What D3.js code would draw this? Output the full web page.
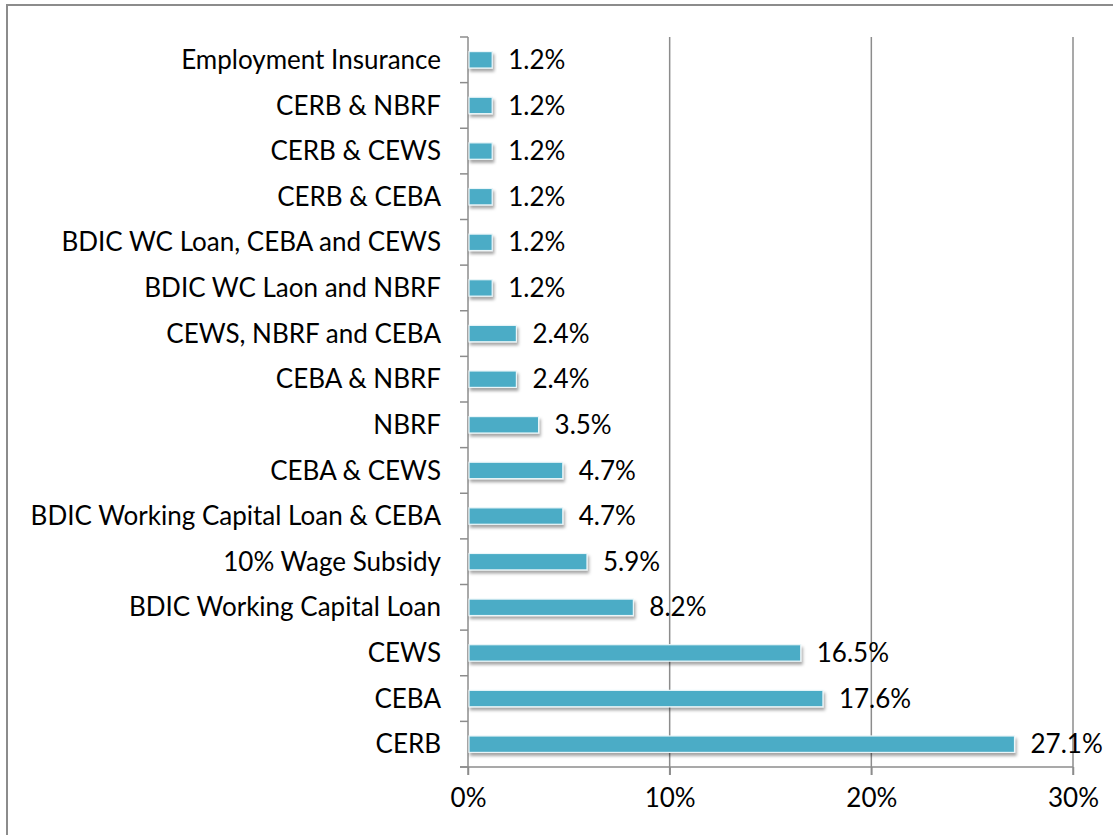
<!DOCTYPE html>
<html>
<head>
<meta charset="utf-8">
<script src="https://cdn.jsdelivr.net/npm/d3@7"></script>
<style>
  body { margin: 0; background: #fff; }
  text { font-family: Lato, "Noto Sans", sans-serif; fill: #000; }
</style>
</head>
<body>
<script>
// categories from top to bottom, same order as the picture
var categories = [
  "Employment Insurance", "CERB & NBRF", "CERB & CEWS", "CERB & CEBA",
  "BDIC WC Loan, CEBA and CEWS", "BDIC WC Laon and NBRF", "CEWS, NBRF and CEBA",
  "CEBA & NBRF", "NBRF", "CEBA & CEWS", "BDIC Working Capital Loan & CEBA",
  "10% Wage Subsidy", "BDIC Working Capital Loan", "CEWS", "CEBA", "CERB"
];
var shares = [1.2, 1.2, 1.2, 1.2, 1.2, 1.2, 2.4, 2.4, 3.5, 4.7, 4.7, 5.9, 8.2, 16.5, 17.6, 27.1];
var xTicks = [0, 10, 20, 30];

var W = 1113, H = 835;
var LEFT = 468, RIGHT = 1073, TOP = 37, BOTTOM = 767;
var FONT = 26;
var GRID = "#8c8c8c";

var svg = d3.select("body").append("svg")
  .attr("width", W).attr("height", H);

// drop shadow for the bars
var defs = svg.append("defs");
var f = defs.append("filter").attr("id", "shadow")
  .attr("x", "-10%").attr("y", "-40%").attr("width", "130%").attr("height", "200%");
f.append("feDropShadow")
  .attr("dx", 1.5).attr("dy", 3).attr("stdDeviation", 1.6)
  .attr("flood-color", "#000").attr("flood-opacity", 0.35);

// outer frame (only left and top edges are in the picture)
svg.append("path")
  .attr("d", "M7,835 V5 H" + W)
  .attr("fill", "none").attr("stroke", GRID).attr("stroke-width", 2);

var x = d3.scaleLinear().domain([0, 30]).range([LEFT, RIGHT]);
var y = d3.scaleBand().domain(categories).range([TOP, BOTTOM])
  .paddingInner(0.64).paddingOuter(0.32);

// vertical gridlines, running a little below the axis as tick marks
svg.append("g").selectAll("line").data(xTicks.slice(1)).enter().append("line")
  .attr("x1", function (d) { return x(d); })
  .attr("x2", function (d) { return x(d); })
  .attr("y1", TOP).attr("y2", BOTTOM + 8)
  .attr("stroke", GRID).attr("stroke-width", 1.5);

// bottom axis
var xAxis = d3.axisBottom(x).tickValues(xTicks)
  .tickFormat(function (d) { return d + "%"; })
  .tickSize(8).tickPadding(14);
var gx = svg.append("g")
  .attr("transform", "translate(0," + BOTTOM + ")")
  .call(xAxis);
gx.select(".domain").remove();
gx.selectAll("line").attr("stroke", GRID).attr("stroke-width", 1.5);
gx.selectAll("text").style("font-size", FONT + "px").style("font-family", "Lato, sans-serif");
svg.append("line")
  .attr("x1", LEFT - 8).attr("x2", RIGHT)
  .attr("y1", BOTTOM).attr("y2", BOTTOM)
  .attr("stroke", GRID).attr("stroke-width", 1.5);

// left axis: ticks on band boundaries
var bounds = d3.range(categories.length + 1).map(function (i) { return TOP + i * y.step(); });
svg.append("g").selectAll("line").data(bounds).enter().append("line")
  .attr("x1", LEFT - 8).attr("x2", LEFT)
  .attr("y1", function (d) { return d; }).attr("y2", function (d) { return d; })
  .attr("stroke", GRID).attr("stroke-width", 1.5);
svg.append("line")
  .attr("x1", LEFT).attr("x2", LEFT)
  .attr("y1", TOP).attr("y2", BOTTOM + 8)
  .attr("stroke", GRID).attr("stroke-width", 1.5);

// category labels
svg.append("g").selectAll("text").data(categories).enter().append("text")
  .attr("x", LEFT - 27)
  .attr("y", function (d) { return y(d) + y.bandwidth() / 2; })
  .attr("dy", "0.35em")
  .attr("text-anchor", "end")
  .style("font-size", FONT + "px")
  .text(function (d) { return d; });

// bars
svg.append("g").selectAll("rect").data(shares).enter().append("rect")
  .attr("x", x(0) + 1)
  .attr("y", function (d, i) { return y(categories[i]); })
  .attr("width", function (d) { return x(d) - x(0) - 1; })
  .attr("height", y.bandwidth())
  .attr("fill", "#4bacc6")
  .attr("stroke", "#eaf6f9").attr("stroke-width", 1.2)
  .attr("filter", "url(#shadow)");

// value labels
svg.append("g").selectAll("text").data(shares).enter().append("text")
  .attr("x", function (d) { return x(d) + 16; })
  .attr("y", function (d, i) { return y(categories[i]) + y.bandwidth() / 2; })
  .attr("dy", "0.35em")
  .style("font-size", FONT + "px")
  .text(function (d) { return d.toFixed(1) + "%"; });
</script>
</body>
</html>
